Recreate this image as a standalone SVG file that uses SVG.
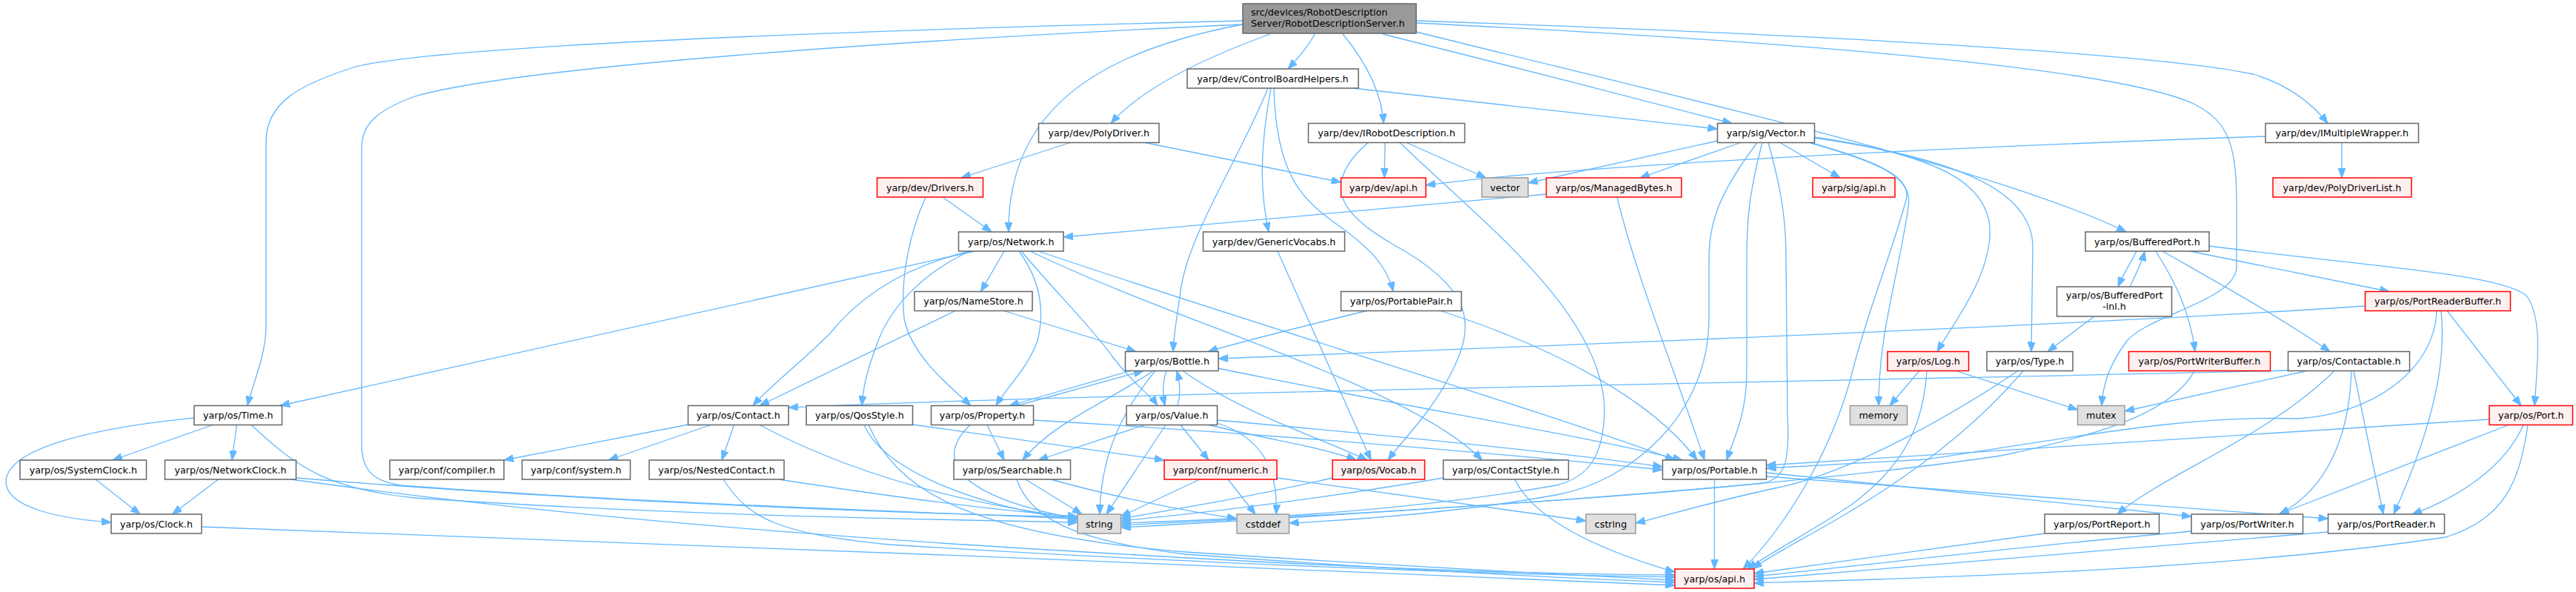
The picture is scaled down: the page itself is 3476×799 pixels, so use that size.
<svg xmlns="http://www.w3.org/2000/svg" width="3476" height="799" viewBox="0 0 3476 799">
<style>
.n rect{fill:#ffffff;stroke:#666666;stroke-width:1.5}
.r rect{fill:#fff0f0;stroke:#ff0000;stroke-width:1.5}
.g rect{fill:#e0e0e0;stroke:#999999;stroke-width:1.5}
.root rect{fill:#999999;stroke:#666666;stroke-width:1.5}
text{font-family:"DejaVu Sans","Liberation Sans",sans-serif;font-size:12.7px;text-anchor:middle;fill:#000000}
.root text{text-anchor:start}
#edges path{fill:none;stroke:#63b8ff;stroke-width:1.3;marker-end:url(#a)}
</style>
<defs>
<marker id="a" markerUnits="userSpaceOnUse" markerWidth="14" markerHeight="10" refX="13" refY="5" orient="auto">
<path d="M0,0 L13,5 L0,10 z" fill="#63b8ff" stroke="#63b8ff" stroke-width="1"/>
</marker>
</defs>
<rect x="0" y="0" width="3476" height="799" fill="#ffffff"/>
<g id="edges">
<path d="M1774,46 C1766,62 1752,78 1738,93"/>
<path d="M1714,46 C1620,80 1540,120 1499,166.5"/>
<path d="M1677,33 C1450,75 1360,170 1361,313"/>
<path d="M1812,46 C1840,80 1864,120 1867,166.5"/>
<path d="M1866,46 C2000,80 2200,130 2337,166.5"/>
<path d="M1911,43 C2300,140 2700,230 2869,313"/>
<path d="M1911,28 C2400,45 2900,70 3040,100 C3090,115 3120,140 3141,166.5"/>
<path d="M1911,31 C2400,55 2850,90 2960,140 C3010,165 3018,200 3018,280 L3018,360 C3018,405 2900,425 2870,460 C2848,490 2838,515 2836,547.5"/>
<path d="M1677,28 C1200,40 600,60 480,90 C400,115 360,140 359,190 L359,440 C359,480 340,520 334,547.5"/>
<path d="M1677,33 C1200,55 700,90 560,130 C505,150 488,170 488,200 L488,600 C488,640 510,650 540,655 C800,675 1200,690 1454,700"/>
<path d="M1826,119 L2317.5,174"/>
<path d="M1711,119 C1670,220 1600,320 1592,400 C1588,430 1584,450 1583,474.5"/>
<path d="M1715,119 C1700,200 1700,260 1712,313"/>
<path d="M1719,119 C1722,240 1760,270 1800,300 C1850,335 1872,360 1880,393.5"/>
<path d="M1444,192.5 L1297,240"/>
<path d="M1545,192.5 L1809.5,246"/>
<path d="M1869,192.5 L1868,240"/>
<path d="M1898,192.5 L2005,240"/>
<path d="M1846,192.5 C1780,250 1810,290 1880,330 C1990,390 1990,440 1960,500 C1930,560 1895,590 1873,621"/>
<path d="M1889,192.5 C2000,300 2160,420 2165,550 C2165,620 2140,645 2100,655 C1900,690 1700,700 1512.5,706"/>
<path d="M2318,190 L2062,247"/>
<path d="M2349,192.5 L2213,240"/>
<path d="M2402,192.5 L2483,240"/>
<path d="M2371,192.5 C2320,260 2306,300 2306,350 L2306,430 C2306,560 2200,650 2100,668 C1950,695 1800,703 1739.5,706"/>
<path d="M2378,192.5 C2360,260 2357,300 2357,350 L2357,500 C2357,560 2340,590 2330,621"/>
<path d="M2386,192.5 C2405,260 2410,300 2410,350 L2412,560 C2415,620 2410,645 2380,652 C2100,680 1700,700 1512.5,709"/>
<path d="M2443,192.5 C2540,220 2580,240 2572,270 C2550,350 2520,420 2500,500 C2470,620 2400,720 2352,768"/>
<path d="M2443,193 C2540,220 2582,240 2575,280 C2560,380 2535,450 2535,547.5"/>
<path d="M2448,185 C2620,210 2690,250 2685,320 C2680,380 2640,430 2614,474.5"/>
<path d="M2448,186 C2650,215 2740,260 2743,330 L2741,474.5"/>
<path d="M3057,184 C2600,200 2100,225 1924,250"/>
<path d="M3160,192.5 L3160,240"/>
<path d="M1272,266 L1338,313"/>
<path d="M1249,266 C1225,320 1215,380 1220,430 C1230,480 1280,520 1310,547.5"/>
<path d="M2086.5,262 L1435,320"/>
<path d="M2182,266 C2210,380 2260,500 2300,621"/>
<path d="M1315,339 L378,547.5"/>
<path d="M1309,339 C1220,360 1160,400 1120,450 C1080,490 1040,520 1016,547.5"/>
<path d="M1309,339 C1240,370 1200,420 1185,460 C1170,500 1165,520 1163,547.5"/>
<path d="M1355,339 L1323.5,393.5"/>
<path d="M1375,339 C1405,380 1410,420 1400,460 C1385,500 1360,520 1344,547.5"/>
<path d="M1378,339 C1430,400 1480,450 1500,480 C1530,520 1550,530 1562,547.5"/>
<path d="M1390,339 C1600,440 1900,520 2000,621"/>
<path d="M1401,339 C1700,440 2100,560 2260,621"/>
<path d="M1724,339 L1850,621"/>
<path d="M2883,339 C2875,355 2865,370 2858,387"/>
<path d="M2874,387 C2882,370 2890,355 2894,339"/>
<path d="M2955,339 L3224,393.5"/>
<path d="M2981,332 C3200,360 3380,370 3410,400 C3430,430 3425,480 3420,547.5"/>
<path d="M2909,339 C2935,380 2955,420 2962,474.5"/>
<path d="M2918,339 C2990,380 3080,430 3144,474.5"/>
<path d="M2826,427 L2763,474.5"/>
<path d="M3191.5,413 C2800,440 2000,470 1644,484"/>
<path d="M3302,419.5 L3402,547.5"/>
<path d="M3294,419.5 C3300,480 3290,560 3230,694"/>
<path d="M3288,419.5 C3285,500 3200,560 3100,565 C2950,560 2800,590 2600,620 L2383.5,632"/>
<path d="M3087.5,500 C2700,510 1500,530 1064,550"/>
<path d="M3113,500.5 L2867,555"/>
<path d="M3150,500.5 C3060,590 2920,640 2857,694"/>
<path d="M3173,500.5 C3170,590 3140,660 3076,694"/>
<path d="M3176,500.5 L3216,694"/>
<path d="M3359,566 L2383.5,628"/>
<path d="M3385,573.5 L3075,694"/>
<path d="M3405,573.5 C3380,630 3320,670 3255,694"/>
<path d="M3411,573.5 C3400,650 3380,700 3300,725 C3000,770 2600,780 2367,787"/>
<path d="M2961,500.5 C2930,560 2820,590 2700,615 C2400,660 1900,690 1512.5,712"/>
<path d="M2590,500.5 L2550,547.5"/>
<path d="M2639,500.5 L2803.5,553"/>
<path d="M2600,500.5 C2596,560 2580,620 2500,680 C2440,720 2390,745 2358,768"/>
<path d="M2723,500.5 C2650,550 2500,640 2390,660 C2300,680 2240,698 2207,706"/>
<path d="M2730,500.5 C2680,560 2600,630 2480,700 C2420,735 2385,752 2365,768"/>
<path d="M2313.5,647 L2313.5,768"/>
<path d="M2383.5,638 C2600,660 2850,685 2957,697"/>
<path d="M2383.5,643 C2700,665 3000,690 3141.5,700"/>
<path d="M2044,647 C2070,700 2150,740 2260,772"/>
<path d="M1947.5,645 C1800,670 1650,690 1512.5,703"/>
<path d="M1798,645 C1700,668 1600,685 1512.5,700"/>
<path d="M1619,647 L1512.5,697"/>
<path d="M1657,647 L1694,694"/>
<path d="M1723,645 C1900,670 2050,690 2140,703"/>
<path d="M1589,547.5 C1594,530 1592,515 1588,500.5"/>
<path d="M1574,500.5 C1569,515 1568,530 1572,547.5"/>
<path d="M1545,573.5 L1401,621"/>
<path d="M1573,573.5 L1493,694"/>
<path d="M1593,573.5 L1631,621"/>
<path d="M1642.5,567 C1900,590 2100,610 2243.5,630"/>
<path d="M1631,573.5 C1720,595 1790,605 1830,621"/>
<path d="M1642.5,571 C1700,590 1725,630 1722,694"/>
<path d="M1525,500.5 L1362,547.5"/>
<path d="M1372,547.5 L1543,500.5"/>
<path d="M1332,573.5 L1355,621"/>
<path d="M1309,573.5 C1260,620 1290,670 1454,700"/>
<path d="M1394.5,567 C1700,585 2000,610 2243.5,634"/>
<path d="M1556,500.5 C1500,540 1420,570 1380,621"/>
<path d="M1559,500.5 C1510,560 1485,620 1484,694"/>
<path d="M1596,500.5 C1680,560 1780,590 1845,621"/>
<path d="M1643.5,497 C1900,550 2150,590 2270,621"/>
<path d="M1289,419.5 L1025,547.5"/>
<path d="M1353,419 L1533,474.5"/>
<path d="M1844,419.5 C1760,440 1680,460 1630,474.5"/>
<path d="M1944,419.5 C2100,470 2230,540 2290,621"/>
<path d="M1231.5,573 L1571,621"/>
<path d="M1166,573.5 C1190,630 1300,680 1454,702"/>
<path d="M1172,573.5 C1210,660 1300,720 1600,745 C1900,765 2100,775 2260,783"/>
<path d="M929,573 L680,621"/>
<path d="M959,573.5 L821,621"/>
<path d="M990.5,573.5 L974,621"/>
<path d="M1025,573.5 C1150,640 1300,680 1454,699"/>
<path d="M1051,647 C1200,670 1350,690 1454,697"/>
<path d="M976,647 C1010,700 1050,720 1200,735 C1600,760 2000,775 2260,779"/>
<path d="M1384,647 L1460,694"/>
<path d="M1418,647 C1500,670 1600,690 1669,700"/>
<path d="M1372,647 C1390,700 1450,730 1600,748 C1900,770 2100,780 2260,786"/>
<path d="M262,564 C150,575 10,600 8,650 C8,685 80,700 150,705"/>
<path d="M287,573.5 L152,621"/>
<path d="M319.5,573.5 L313,621"/>
<path d="M339,573.5 C400,630 440,660 560,672 C900,695 1200,700 1454,705"/>
<path d="M129,647 L189,694"/>
<path d="M294.5,647 L232.5,694"/>
<path d="M400,645 C700,670 1100,690 1454,698"/>
<path d="M393,647 C700,690 1000,715 1300,735 C1700,760 2000,775 2260,776"/>
<path d="M272,711 C800,730 1700,765 2260,790"/>
<path d="M2759,720 L2367,774"/>
<path d="M2957,717 C2700,740 2500,765 2367,778"/>
<path d="M3141.5,718 C2800,745 2500,770 2367,782"/>
</g>
<g id="root" class="root"><rect x="1677" y="5" width="234" height="40"/><text x="1688" y="21">src/devices/RobotDescription</text><text x="1688" y="36">Server/RobotDescriptionServer.h</text></g>
<g id="cbh" class="n"><rect x="1602" y="93" width="231" height="26"/><text x="1717.5" y="110.5">yarp/dev/ControlBoardHelpers.h</text></g>
<g id="polydriver" class="n"><rect x="1401.5" y="166.5" width="162.5" height="26"/><text x="1482.8" y="184">yarp/dev/PolyDriver.h</text></g>
<g id="irobot" class="n"><rect x="1765.5" y="166.5" width="211" height="26"/><text x="1871" y="184">yarp/dev/IRobotDescription.h</text></g>
<g id="sigvector" class="n"><rect x="2317.5" y="166.5" width="131" height="26"/><text x="2383" y="184">yarp/sig/Vector.h</text></g>
<g id="imw" class="n"><rect x="3057" y="166.5" width="206.5" height="26"/><text x="3160.3" y="184">yarp/dev/IMultipleWrapper.h</text></g>
<g id="drivers" class="r"><rect x="1183.5" y="240" width="143" height="26"/><text x="1255" y="257.5">yarp/dev/Drivers.h</text></g>
<g id="devapi" class="r"><rect x="1809.5" y="240" width="114.5" height="26"/><text x="1866.8" y="257.5">yarp/dev/api.h</text></g>
<g id="vector" class="g"><rect x="1999.5" y="240" width="62.5" height="26"/><text x="2030.8" y="257.5">vector</text></g>
<g id="managedbytes" class="r"><rect x="2086.5" y="240" width="182.5" height="26"/><text x="2177.8" y="257.5">yarp/os/ManagedBytes.h</text></g>
<g id="sigapi" class="r"><rect x="2446" y="240" width="111" height="26"/><text x="2501.5" y="257.5">yarp/sig/api.h</text></g>
<g id="polydriverlist" class="r"><rect x="3067" y="240" width="187" height="26"/><text x="3160.5" y="257.5">yarp/dev/PolyDriverList.h</text></g>
<g id="network" class="n"><rect x="1293.5" y="313" width="141.5" height="26"/><text x="1364.3" y="330.5">yarp/os/Network.h</text></g>
<g id="genericvocabs" class="n"><rect x="1623.5" y="313" width="191" height="26"/><text x="1719" y="330.5">yarp/dev/GenericVocabs.h</text></g>
<g id="bufferedport" class="n"><rect x="2814" y="313" width="167" height="26"/><text x="2897.5" y="330.5">yarp/os/BufferedPort.h</text></g>
<g id="namestore" class="n"><rect x="1234" y="393.5" width="159" height="26"/><text x="1313.5" y="411">yarp/os/NameStore.h</text></g>
<g id="portablepair" class="n"><rect x="1809.5" y="393.5" width="162.5" height="26"/><text x="1890.8" y="411">yarp/os/PortablePair.h</text></g>
<g id="bufferedportinl" class="n"><rect x="2775.5" y="387" width="155" height="40"/><text x="2853" y="403">yarp/os/BufferedPort</text><text x="2853" y="418">-inl.h</text></g>
<g id="portreaderbuffer" class="r"><rect x="3191.5" y="393.5" width="196" height="26"/><text x="3289.5" y="411">yarp/os/PortReaderBuffer.h</text></g>
<g id="bottle" class="n"><rect x="1518.5" y="474.5" width="125.5" height="26"/><text x="1581.3" y="492">yarp/os/Bottle.h</text></g>
<g id="log" class="r"><rect x="2547" y="474.5" width="109.5" height="26"/><text x="2601.8" y="492">yarp/os/Log.h</text></g>
<g id="type" class="n"><rect x="2681" y="474.5" width="116" height="26"/><text x="2739" y="492">yarp/os/Type.h</text></g>
<g id="portwriterbuffer" class="r"><rect x="2872.5" y="474.5" width="191" height="26"/><text x="2968" y="492">yarp/os/PortWriterBuffer.h</text></g>
<g id="contactable" class="n"><rect x="3087.5" y="474.5" width="164" height="26"/><text x="3169.5" y="492">yarp/os/Contactable.h</text></g>
<g id="time" class="n"><rect x="262" y="547.5" width="118.5" height="26"/><text x="321.3" y="565">yarp/os/Time.h</text></g>
<g id="contact" class="n"><rect x="928.5" y="547.5" width="135.5" height="26"/><text x="996.3" y="565">yarp/os/Contact.h</text></g>
<g id="qosstyle" class="n"><rect x="1088" y="547.5" width="143.5" height="26"/><text x="1159.8" y="565">yarp/os/QosStyle.h</text></g>
<g id="property" class="n"><rect x="1256.5" y="547.5" width="138" height="26"/><text x="1325.5" y="565">yarp/os/Property.h</text></g>
<g id="value" class="n"><rect x="1520" y="547.5" width="122.5" height="26"/><text x="1581.3" y="565">yarp/os/Value.h</text></g>
<g id="memory" class="g"><rect x="2496.5" y="547.5" width="77" height="26"/><text x="2535" y="565">memory</text></g>
<g id="mutex" class="g"><rect x="2803.5" y="547.5" width="63.5" height="26"/><text x="2835.3" y="565">mutex</text></g>
<g id="port" class="r"><rect x="3359" y="547.5" width="112.5" height="26"/><text x="3415.3" y="565">yarp/os/Port.h</text></g>
<g id="systemclock" class="n"><rect x="27" y="621" width="170.5" height="26"/><text x="112.3" y="638.5">yarp/os/SystemClock.h</text></g>
<g id="networkclock" class="n"><rect x="222.5" y="621" width="177" height="26"/><text x="311" y="638.5">yarp/os/NetworkClock.h</text></g>
<g id="compiler" class="n"><rect x="526" y="621" width="154" height="26"/><text x="603" y="638.5">yarp/conf/compiler.h</text></g>
<g id="system" class="n"><rect x="704.5" y="621" width="146" height="26"/><text x="777.5" y="638.5">yarp/conf/system.h</text></g>
<g id="nestedcontact" class="n"><rect x="876" y="621" width="182" height="26"/><text x="967" y="638.5">yarp/os/NestedContact.h</text></g>
<g id="searchable" class="n"><rect x="1287" y="621" width="157.5" height="26"/><text x="1365.8" y="638.5">yarp/os/Searchable.h</text></g>
<g id="numeric" class="r"><rect x="1571" y="621" width="152" height="26"/><text x="1647" y="638.5">yarp/conf/numeric.h</text></g>
<g id="vocab" class="r"><rect x="1798" y="621" width="124.5" height="26"/><text x="1860.3" y="638.5">yarp/os/Vocab.h</text></g>
<g id="contactstyle" class="n"><rect x="1947.5" y="621" width="169" height="26"/><text x="2032" y="638.5">yarp/os/ContactStyle.h</text></g>
<g id="portable" class="n"><rect x="2243.5" y="621" width="140" height="26"/><text x="2313.5" y="638.5">yarp/os/Portable.h</text></g>
<g id="clock" class="n"><rect x="150" y="694" width="122" height="26"/><text x="211" y="711.5">yarp/os/Clock.h</text></g>
<g id="string" class="g"><rect x="1454" y="694" width="58.5" height="26"/><text x="1483.3" y="711.5">string</text></g>
<g id="cstddef" class="g"><rect x="1669" y="694" width="70.5" height="26"/><text x="1704.3" y="711.5">cstddef</text></g>
<g id="cstring" class="g"><rect x="2140" y="694" width="67" height="26"/><text x="2173.5" y="711.5">cstring</text></g>
<g id="portreport" class="n"><rect x="2759" y="694" width="154.5" height="26"/><text x="2836.3" y="711.5">yarp/os/PortReport.h</text></g>
<g id="portwriter" class="n"><rect x="2957" y="694" width="150.5" height="26"/><text x="3032.3" y="711.5">yarp/os/PortWriter.h</text></g>
<g id="portreader" class="n"><rect x="3141.5" y="694" width="157" height="26"/><text x="3220" y="711.5">yarp/os/PortReader.h</text></g>
<g id="osapi" class="r"><rect x="2260" y="768" width="107" height="26"/><text x="2313.5" y="785.5">yarp/os/api.h</text></g>
</svg>
